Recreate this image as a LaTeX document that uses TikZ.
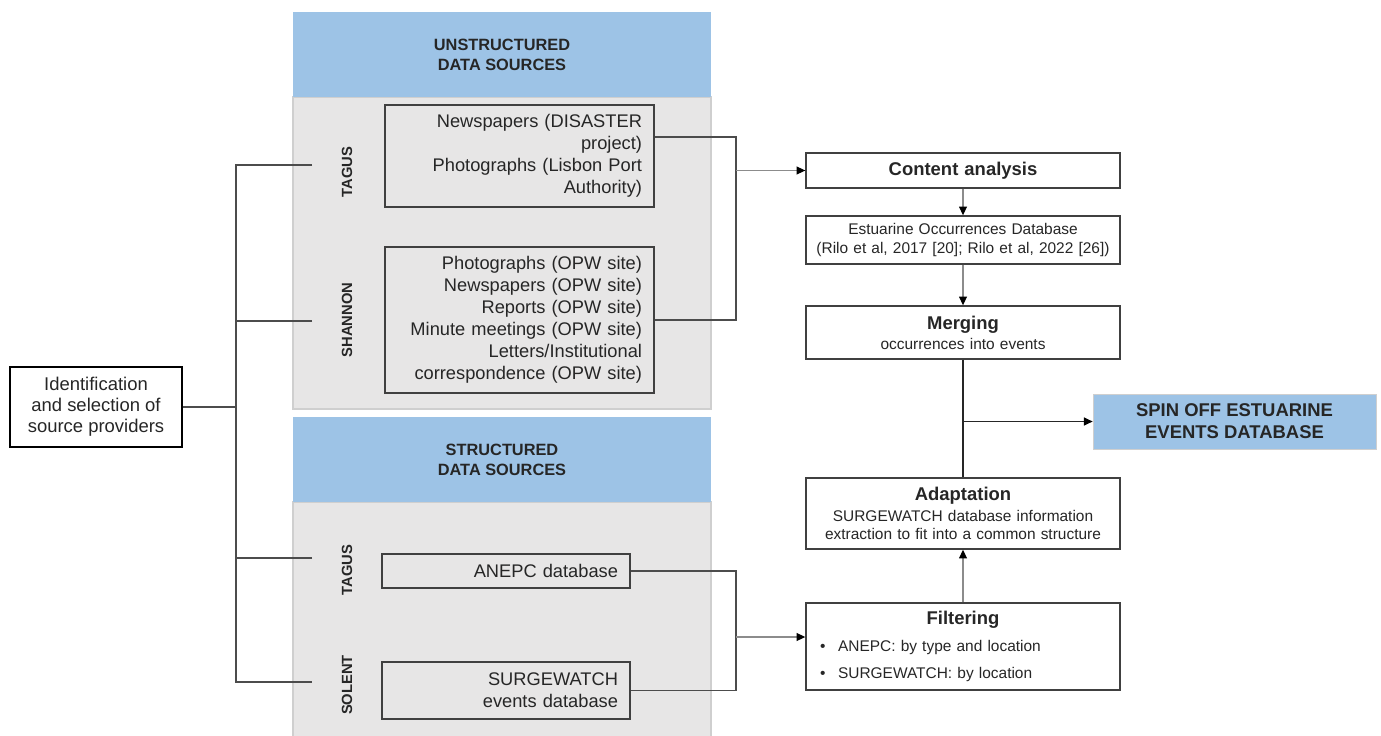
\documentclass[tikz,border=0pt]{standalone}
\usepackage{fontspec}
\setmainfont{Liberation Sans}
\usetikzlibrary{arrows.meta}
\definecolor{hdrblue}{HTML}{9DC3E6}
\definecolor{panelgray}{HTML}{E7E6E6}
\definecolor{panelline}{HTML}{CFCFCF}
\definecolor{ink}{HTML}{262626}
\newcommand{\steptitle}{\fontsize{10.5}{12}\selectfont\bfseries}
\newcommand{\stepsmall}{\fontsize{8.8}{10.4}\selectfont\mdseries}

\begin{document}
\begin{tikzpicture}[x=0.02cm,y=-0.02cm,
  every node/.style={text=ink,inner sep=0pt,font=\fontsize{10.4}{12.5}\selectfont},
  srcbox/.style={draw=black!75,line width=0.8pt,minimum width=5.38cm,text width=4.9cm,align=right},
  stepbox/.style={draw=black!75,line width=0.8pt,minimum width=6.28cm,text width=6cm,align=center},
  header/.style={fill=hdrblue,minimum width=8.36cm,minimum height=1.7cm,align=center,
    font=\fontsize{9.3}{11.3}\selectfont\bfseries},
  river/.style={rotate=90,font=\fontsize{8.4}{10}\selectfont\bfseries},
  conn/.style={draw=black!70,line width=0.7pt},
  arr/.style={draw=black!45,line width=0.7pt,-{Triangle[length=5pt,width=4.5pt,color=black]}}]
  \useasboundingbox (0,0) rectangle (1381,736);
  % grey panels
  \filldraw[fill=panelgray,draw=panelline,line width=0.8pt] (293,97) rectangle (711,409);
  \filldraw[fill=panelgray,draw=panelline,line width=0.8pt] (293,502) rectangle (711,745);
  \node[header] (unhdr) at (502,54.5) {UNSTRUCTURED\\DATA SOURCES};
  \node[header] (sthdr) at (502,459.5) {STRUCTURED\\DATA SOURCES};
  % rivers
  \node[river] (tagA) at (347,172) {TAGUS};
  \node[river] (shannon) at (347,320) {SHANNON};
  \node[river] (tagB) at (347,570) {TAGUS};
  \node[river] (solent) at (347,685) {SOLENT};
  % sources
  \node[srcbox,minimum height=2.04cm] (news) at (519.5,156)
    {Newspapers (DISASTER\\project)\\Photographs (Lisbon Port\\Authority)};
  \node[srcbox,minimum height=2.92cm] (opw) at (519.5,320)
    {Photographs (OPW site)\\Newspapers (OPW site)\\Reports (OPW site)\\Minute meetings (OPW site)\\Letters/Institutional\\correspondence (OPW site)};
  \node[srcbox,minimum width=4.96cm,text width=4.48cm,minimum height=0.68cm] (anepc) at (506,571) {ANEPC database};
  \node[srcbox,minimum width=4.96cm,text width=4.48cm,minimum height=1.14cm] (surge) at (506,690.5)
    {SURGEWATCH\\events database};
  \node[draw=black,line width=1pt,minimum width=3.44cm,minimum height=1.6cm,align=center,
    font=\fontsize{10.5}{12}\selectfont] (ident) at (96,407)
    {Identification\\and selection of\\source providers};
  % steps
  \node[stepbox,minimum height=0.7cm] (content) at (963,170.5) {\steptitle Content analysis};
  \node[stepbox,minimum height=0.96cm,font=\stepsmall] (estuar) at (963,240)
    {Estuarine Occurrences Database\\(Rilo et al, 2017 [20]; Rilo et al, 2022 [26])};
  \node[stepbox,minimum height=1.06cm,font=\stepsmall] (merge) at (963,332.5)
    {{\steptitle Merging}\\[1pt]occurrences into events};
  \node[stepbox,minimum height=1.42cm,font=\stepsmall] (adapt) at (963,513.5)
    {{\steptitle Adaptation}\\[1.5pt]SURGEWATCH database information\\extraction to fit into a common structure};
  \node[stepbox,minimum height=1.74cm,align=left,font=\stepsmall] (filter) at (963,646.5)
    {\makebox[\linewidth][c]{\steptitle Filtering}\\[4.9pt]
     \hspace*{0.14cm}\makebox[0.36cm][l]{\textbullet}ANEPC: by type and location\\[5.5pt]
     \hspace*{0.14cm}\makebox[0.36cm][l]{\textbullet}SURGEWATCH: by location};
  \node[fill=hdrblue,draw=panelline,minimum width=5.66cm,minimum height=1.1cm,align=center,
    font=\fontsize{10.5}{12.5}\selectfont\bfseries] (spin) at (1234.5,421.5)
    {SPIN OFF ESTUARINE\\EVENTS DATABASE};
  % left bracket
  \coordinate (spine) at (236,0);
  \coordinate (l1) at (312,165);
  \coordinate (l2) at (312,321);
  \coordinate (l3) at (312,558);
  \coordinate (l4) at (312,682);
  \draw[conn] (l1) -- (l1 -| spine) -- (l4 -| spine) -- (l4);
  \foreach \c in {l2,l3}
    \draw[conn] (\c) -- (\c -| spine);
  \draw[conn] (ident.east) -- (ident.east -| spine);
  % right brackets
  \coordinate (rj) at (736,0);
  \coordinate (newsout) at ([yshift=0.38cm]news.east);
  \coordinate (fin) at ([yshift=0.19cm]filter.west);
  \draw[conn] (newsout) -- (newsout -| rj) -- (opw.east -| rj) -- (opw.east);
  \draw[arr] (content.west -| rj) -- (content.west);
  \draw[conn] (anepc.east) -- (anepc.east -| rj) -- (surge.east -| rj) -- (surge.east);
  \draw[arr] (fin -| rj) -- (fin);
  % flow
  \draw[arr] (content) -- (estuar);
  \draw[arr] (estuar) -- (merge);
  \draw[conn,draw=black!85] (merge) -- (adapt);
  \draw[arr,draw=black!85,line width=0.9pt] (spin.west -| merge) -- (spin.west);
  \draw[arr] (filter) -- (adapt);
\end{tikzpicture}
\end{document}
